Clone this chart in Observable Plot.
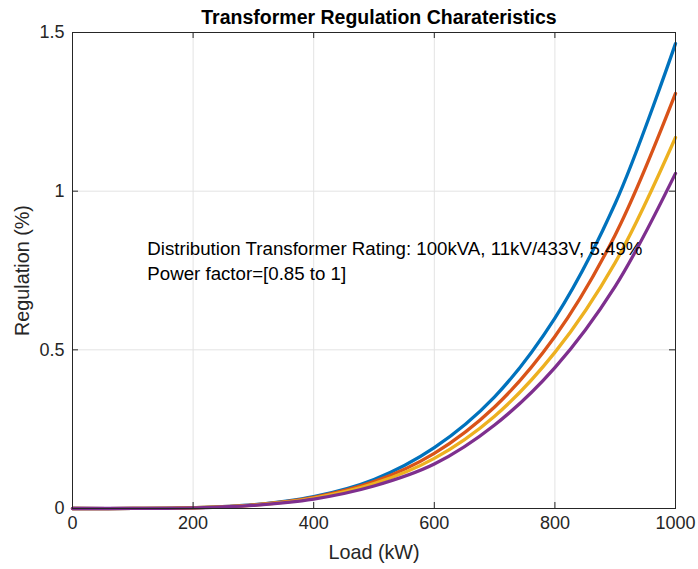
<!DOCTYPE html>
<html>
<head>
<meta charset="utf-8">
<script src="https://cdn.jsdelivr.net/npm/d3@7"></script>
<script src="https://cdn.jsdelivr.net/npm/@observablehq/plot@0.6"></script>
<style>
  html, body { margin: 0; padding: 0; background: #fff; }
</style>
</head>
<body>
<div id="chart"></div>
<script>
// Load (kW)
const loads = [0, 100, 200, 300, 400, 500, 600, 700, 800, 900, 1000];
// Regulation (%) for four power factors
const seriesNames = ["pf 0.85", "pf 0.9", "pf 0.95", "pf 1.0"];
const seriesColors = ["#0072BD", "#D95319", "#EDB120", "#7E2F8E"];
const regBlue   = [0, 0.0001, 0.0023, 0.0119, 0.0375, 0.0916, 0.192, 0.352, 0.600, 0.961, 1.465];
const regOrange = [0, 0.0001, 0.0023, 0.0112, 0.0351, 0.0846, 0.174, 0.320, 0.542, 0.862, 1.308];
const regYellow = [0, 0.0001, 0.0022, 0.0107, 0.0328, 0.0783, 0.158, 0.291, 0.492, 0.775, 1.169];
const regPurple = [0, 0.0001, 0.0020, 0.0097, 0.0296, 0.0708, 0.140, 0.263, 0.444, 0.700, 1.056];
const xTicks = [0, 200, 400, 600, 800, 1000];
const yTicks = [0, 0.5, 1, 1.5];
const titleText = "Transformer Regulation Charateristics";
const xLabel = "Load (kW)";
const yLabel = "Regulation (%)";
const noteText = "Distribution Transformer Rating: 100kVA, 11kV/433V, 5.49%\nPower factor=[0.85 to 1]";
const notePos = {x: 124, y: 0.785};

const allSeries = [regBlue, regOrange, regYellow, regPurple];
const rows = [];
allSeries.forEach((vals, i) => {
  vals.forEach((v, j) => rows.push({load: loads[j], reg: v, series: seriesNames[i]}));
});

const W = 698, H = 569;
const mL = 72, mR = 23, mT = 32, mB = 61;
const innerW = W - mL - mR, innerH = H - mT - mB;
const tick = 6;
const ink = "#262626";

const chart = Plot.plot({
  width: W,
  height: H,
  marginLeft: mL,
  marginRight: mR,
  marginTop: mT,
  marginBottom: mB,
  style: {fontFamily: "'Liberation Sans', Arial, Helvetica, sans-serif", color: ink, background: "#fff"},
  x: {domain: [0, 1000]},
  y: {domain: [0, 1.5]},
  color: {domain: seriesNames, range: seriesColors},
  marks: [
    Plot.gridX(xTicks, {stroke: "#e3e3e3", strokeOpacity: 1}),
    Plot.gridY(yTicks, {stroke: "#e3e3e3", strokeOpacity: 1}),
    Plot.axisX(xTicks, {tickSize: 0, tickPadding: 8, fontSize: 18, tickFormat: d => String(d), label: null, fill: ink}),
    Plot.axisY(yTicks, {tickSize: 0, tickPadding: 8, fontSize: 18, tickFormat: d => String(d), label: null, fill: ink}),
    Plot.line(rows, {x: "load", y: "reg", z: "series", stroke: "series", strokeWidth: 3.3, curve: "catmull-rom"}),
    Plot.ruleX(xTicks, {x: d => d, insetTop: innerH - tick, stroke: ink}),
    Plot.ruleX(xTicks, {x: d => d, insetBottom: innerH - tick, stroke: ink}),
    Plot.ruleY(yTicks, {y: d => d, insetRight: innerW - tick, stroke: ink}),
    Plot.ruleY(yTicks, {y: d => d, insetLeft: innerW - tick, stroke: ink}),
    Plot.frame({stroke: ink, strokeWidth: 1}),
    Plot.text([noteText], {x: () => notePos.x, y: () => notePos.y, text: d => d, textAnchor: "start", lineAnchor: "middle", lineHeight: 1.32, fontSize: 18.7, fill: "#000"}),
    Plot.text([titleText], {frameAnchor: "top", dx: 5, dy: -15, text: d => d, lineAnchor: "middle", fontSize: 19.5, fontWeight: "bold", fill: "#000"}),
    Plot.text([xLabel], {frameAnchor: "bottom", dy: 44, text: d => d, lineAnchor: "middle", fontSize: 19.8, fill: ink}),
    Plot.text([yLabel], {frameAnchor: "left", dx: -50, rotate: -90, text: d => d, textAnchor: "middle", lineAnchor: "middle", fontSize: 19.8, fill: ink})
  ]
});
document.getElementById("chart").appendChild(chart);
</script>
</body>
</html>
